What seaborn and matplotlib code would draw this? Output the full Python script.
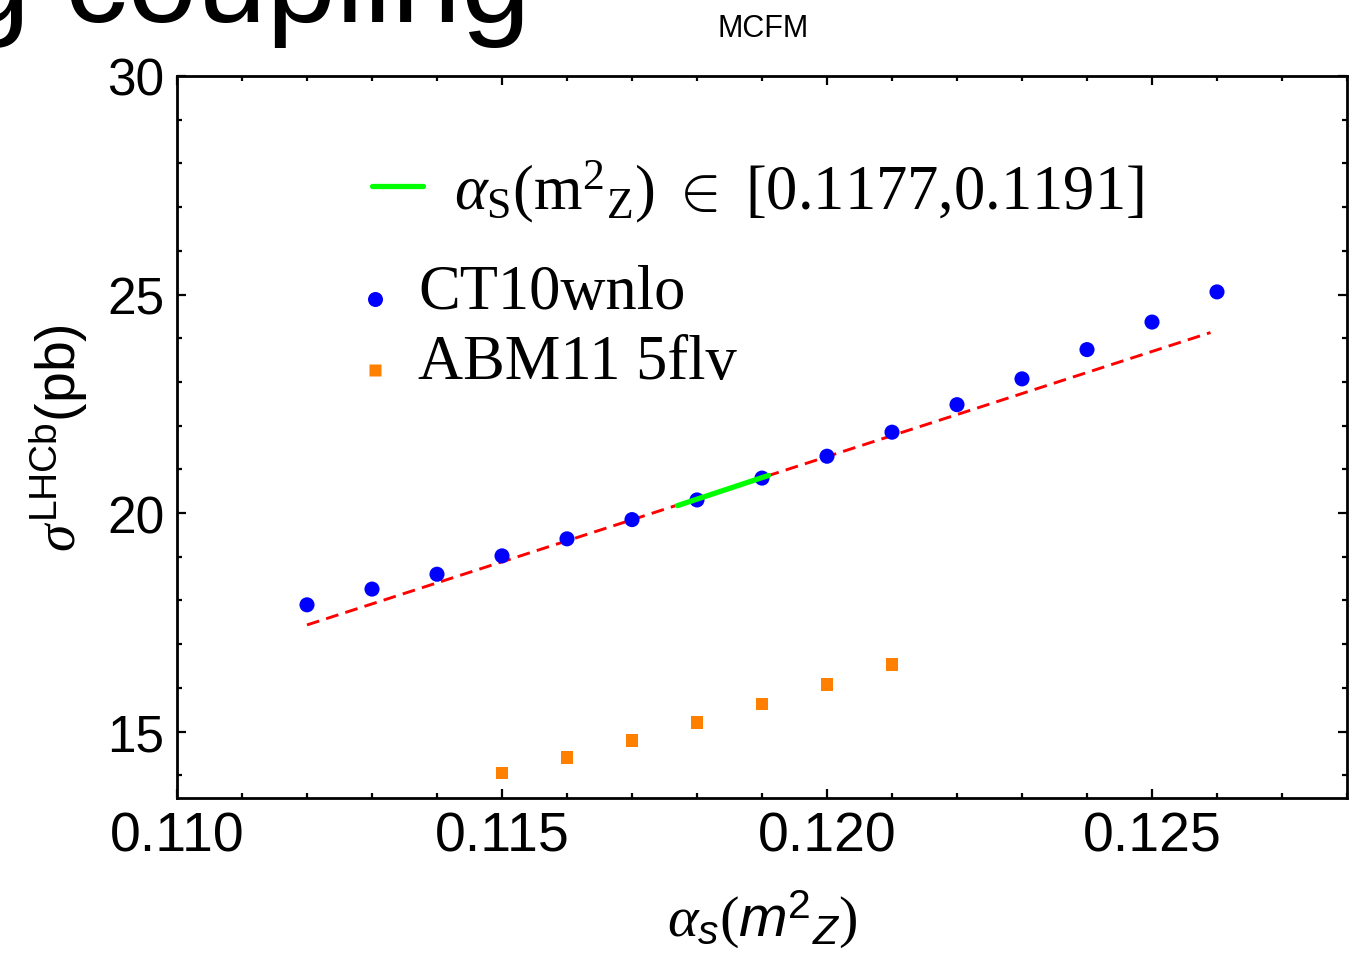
import matplotlib
matplotlib.use("Agg")
import matplotlib.pyplot as plt
import seaborn as sns
import numpy as np
import pandas as pd
from matplotlib.lines import Line2D
from matplotlib.legend_handler import HandlerLine2D
from matplotlib.ticker import MultipleLocator, FormatStrFormatter

# --- data -------------------------------------------------------------
alpha_ct10 = [0.112, 0.113, 0.114, 0.115, 0.116, 0.117, 0.118, 0.119,
              0.120, 0.121, 0.122, 0.123, 0.124, 0.125, 0.126]
sigma_ct10 = [17.90, 18.26, 18.60, 19.02, 19.41, 19.85, 20.30, 20.80,
              21.30, 21.85, 22.48, 23.07, 23.74, 24.37, 25.06]

alpha_abm = [0.115, 0.116, 0.117, 0.118, 0.119, 0.120, 0.121]
sigma_abm = [14.05, 14.41, 14.80, 15.21, 15.63, 16.08, 16.54]

# linear fit through the CT10 points
fit_alpha = [0.112, 0.1259]
fit_sigma = [17.44, 24.13]

# world-average alpha_s range
band_alpha = [0.1177, 0.1191]
band_sigma = [20.17, 20.86]

x_ticks = [0.110, 0.115, 0.120, 0.125]
y_ticks = [15, 20, 25, 30]

label_ct10 = "CT10wnlo"
label_abm = "ABM11 5flv"
label_band = r"$\alpha_{\rm S}(\rm m^{2}{}_{Z})\ \in\ [0.1177{,}0.1191]$"

# --- style ------------------------------------------------------------
sns.set_theme(style="ticks")
plt.rcParams["font.family"] = ["Liberation Sans", "DejaVu Sans"]
plt.rcParams["text.color"] = "black"
plt.rcParams["axes.labelcolor"] = "black"
plt.rcParams["xtick.color"] = "black"
plt.rcParams["ytick.color"] = "black"
plt.rcParams["mathtext.fontset"] = "custom"
plt.rcParams["mathtext.rm"] = "Liberation Serif"
plt.rcParams["mathtext.it"] = "Liberation Serif:italic"
plt.rcParams["mathtext.sf"] = "Liberation Sans"
plt.rcParams["mathtext.bf"] = "Liberation Sans:italic"

fig = plt.figure(figsize=(13.64, 9.54), dpi=100)
ax = fig.add_axes([177 / 1364, 1 - 799 / 954, (1347 - 177) / 1364, (799 - 77) / 954])

df_ct10 = pd.DataFrame({"alpha": alpha_ct10, "sigma": sigma_ct10})
df_abm = pd.DataFrame({"alpha": alpha_abm, "sigma": sigma_abm})
df_fit = pd.DataFrame({"alpha": fit_alpha, "sigma": fit_sigma})
df_band = pd.DataFrame({"alpha": band_alpha, "sigma": band_sigma})

sns.lineplot(data=df_fit, x="alpha", y="sigma", ax=ax, color="#ff0000",
             lw=2.1, zorder=2)
ax.lines[-1].set_dashes([4.4, 2.5])
sns.scatterplot(data=df_ct10, x="alpha", y="sigma", ax=ax, color="#0000ff",
                marker="o", s=118, edgecolor="none", zorder=3)
sns.scatterplot(data=df_abm, x="alpha", y="sigma", ax=ax, color="#ff8000",
                marker="s", s=84, edgecolor="none", zorder=3)
sns.lineplot(data=df_band, x="alpha", y="sigma", ax=ax, color="#00ff00",
             lw=3.8, zorder=4)

ax.set_xlim(0.110, 0.128)
ax.set_ylim(13.48, 30)
ax.set_xticks(x_ticks)
ax.set_yticks(y_ticks)
ax.xaxis.set_major_formatter(FormatStrFormatter("%.3f"))
ax.yaxis.set_major_formatter(FormatStrFormatter("%d"))
ax.xaxis.set_minor_locator(MultipleLocator(0.001))
ax.yaxis.set_minor_locator(MultipleLocator(1))

for side in ["left", "right", "top", "bottom"]:
    ax.spines[side].set_visible(True)
    ax.spines[side].set_linewidth(2.0)
    ax.spines[side].set_color("black")

ax.tick_params(which="both", direction="in", top=True, right=True,
               colors="black", width=1.6)
ax.tick_params(which="major", length=6.5, pad=9)
ax.tick_params(axis="x", which="major", labelsize=40)
ax.tick_params(axis="y", which="major", labelsize=37)
ax.tick_params(which="minor", length=3.8)

ax.set_xlabel(r"$\alpha_{\mathbf{s}}(\mathbf{m}^{\mathsf{2}}{}_{\mathbf{Z}})$",
              fontsize=42, labelpad=18, color="black")
ax.set_ylabel(r"$\sigma^{\mathsf{LHCb}}\mathsf{(pb)}$", fontsize=40,
              color="black")
ax.yaxis.set_label_coords(-0.074, 0.5)

# legends
serif = {"family": "Liberation Serif", "size": 45}
band_handle = Line2D([], [], color="#00ff00", lw=3.8)
leg1 = ax.legend([band_handle], [label_band], prop=serif, frameon=False,
                 loc="upper left", bbox_to_anchor=(372 / 1364, 1 - 158 / 954),
                 bbox_transform=fig.transFigure, borderpad=0,
                 borderaxespad=0, handlelength=0.82, handletextpad=0.5)
ax.add_artist(leg1)


def lower_marker(legend_handle, orig_handle):
    # sit the legend symbol near the text baseline
    legend_handle.update_from(orig_handle)
    legend_handle.set_ydata(np.asarray(legend_handle.get_ydata()) - 9.5)


pt_handles = [
    Line2D([], [], ls="none", marker="o", ms=10.8, color="#0000ff", mec="none"),
    Line2D([], [], ls="none", marker="s", ms=9.2, color="#ff8000", mec="none"),
]
ax.legend(pt_handles, [label_ct10, label_abm], prop=serif, frameon=False,
          loc="upper left", bbox_to_anchor=(362 / 1364, 1 - 265 / 954),
          bbox_transform=fig.transFigure, borderpad=0, borderaxespad=0,
          handlelength=0.4, handletextpad=0.5, labelspacing=0.2,
          handler_map={Line2D: HandlerLine2D(update_func=lower_marker)})

# slide heading and generator tag
fig.text(531 / 1364, 1 - 22 / 954, "Strong coupling", fontsize=90,
         ha="right", va="baseline", color="black")
fig.text(763 / 1364, 1 - 37 / 954, "MCFM", fontsize=22,
         ha="center", va="baseline", color="black")

fig.savefig("out.png", dpi=100, facecolor="white")
